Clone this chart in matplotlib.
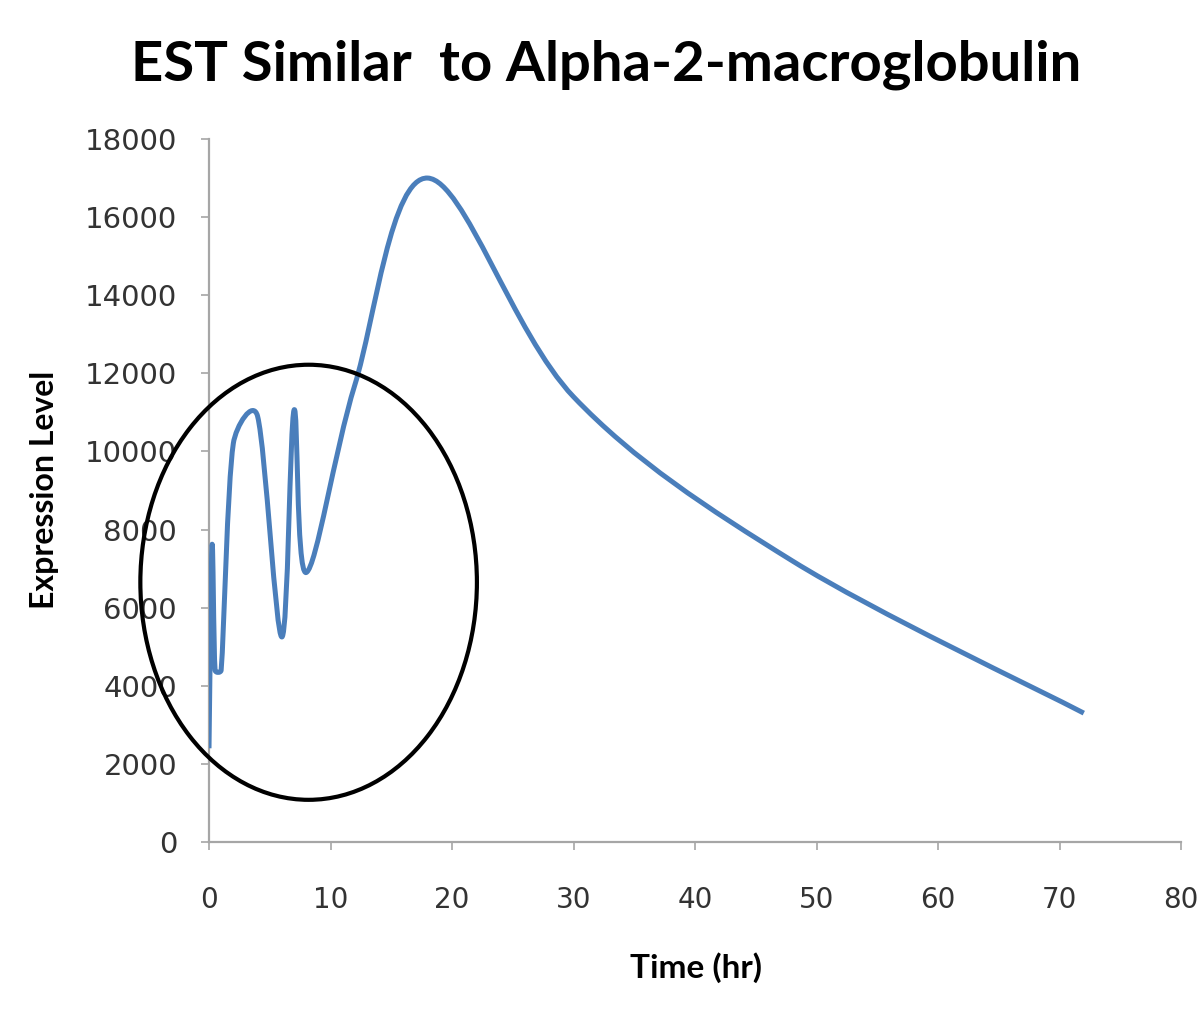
import numpy as np
import matplotlib
matplotlib.use("Agg")
import matplotlib.pyplot as plt
from matplotlib.path import Path
from matplotlib.patches import PathPatch, Ellipse

# data
time_hr = [0, 0.25, 0.5, 1, 2, 4, 6, 7, 8, 12, 18, 30, 48, 72]
expression = [2400, 7600, 4400, 4400, 10200, 10900, 5250, 11060, 6900,
              11700, 17000, 11400, 7200, 3300]
x_ticks = [0, 10, 20, 30, 40, 50, 60, 70, 80]
y_ticks = [0, 2000, 4000, 6000, 8000, 10000, 12000, 14000, 16000, 18000]

# circled region (centre, width, height in data units)
circle_centre = (8.2, 6650)
circle_w = 27.7
circle_h = 11140

line_col = "#4a7ebb"
axis_col = "#a6a6a6"

fig = plt.figure(figsize=(12, 10.11), dpi=100)
ax = fig.add_axes([209/1200, 1-842/1011, (1181-209)/1200, (842-139)/1011])
ax.set_xlim(0, 80)
ax.set_ylim(0, 18000)


def smooth_path(ax, xs, ys):
    # excel-like smoothed line, done in screen space then mapped back
    pts = ax.transData.transform(np.column_stack([xs, ys]))
    n = len(pts)
    verts = [pts[0]]
    codes = [Path.MOVETO]
    for i in range(n-1):
        p0 = pts[i-1] if i > 0 else pts[i]
        p1 = pts[i]
        p2 = pts[i+1]
        p3 = pts[i+2] if i+2 < n else pts[i+1]
        seg = np.linalg.norm(p2 - p1)
        d1 = (p2 - p0) / 6
        d2 = (p3 - p1) / 6
        if np.linalg.norm(d1) > seg/2:
            d1 = d1 * (seg/2) / np.linalg.norm(d1)
        if np.linalg.norm(d2) > seg/2:
            d2 = d2 * (seg/2) / np.linalg.norm(d2)
        verts += [p1 + d1, p2 - d2, p2]
        codes += [Path.CURVE4]*3
    verts = ax.transData.inverted().transform(np.array(verts))
    return Path(verts, codes)


path = smooth_path(ax, time_hr, expression)
ax.add_patch(PathPatch(path, facecolor="none", edgecolor=line_col, lw=3.6,
                       joinstyle="round", capstyle="butt", zorder=3))

ax.add_patch(Ellipse(circle_centre, circle_w, circle_h, facecolor="none",
                     edgecolor="black", lw=3, clip_on=False, zorder=4))

for s in ["top", "right"]:
    ax.spines[s].set_visible(False)
for s in ["left", "bottom"]:
    ax.spines[s].set_color(axis_col)
    ax.spines[s].set_linewidth(1.6)

ax.set_xticks(x_ticks)
ax.set_yticks(y_ticks)
ax.set_yticklabels([str(v) for v in y_ticks])
ax.tick_params(axis="both", direction="out", length=6, width=1.2, color=axis_col,
               labelcolor="#333333")
ax.tick_params(axis="y", labelsize=21, pad=17)
ax.tick_params(axis="x", labelsize=20, pad=26)

fig.text(0.505, 1-65/1011, "EST Similar  to Alpha-2-macroglobulin", ha="center",
         va="center", fontsize=40.5, fontweight="bold", family="Lato")
fig.text(45/1200, 1-490/1011, "Expression Level", rotation=90, ha="center",
         va="center", fontsize=23, fontweight="bold", family="Lato")
fig.text(696/1200, 1-968/1011, "Time (hr)", ha="center", va="center",
         fontsize=24, fontweight="bold", family="Lato")

fig.savefig("out.png", dpi=100)
